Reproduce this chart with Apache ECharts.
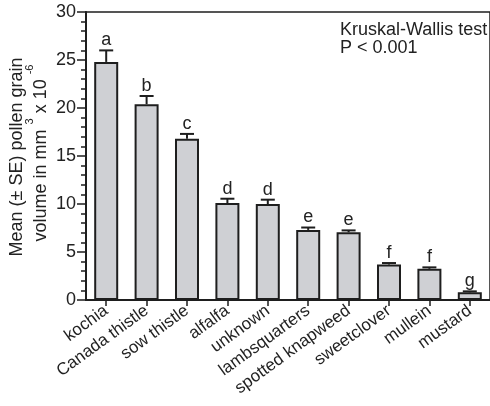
<!DOCTYPE html>
<html>
<head>
<meta charset="utf-8">
<script src="https://cdn.jsdelivr.net/npm/echarts@6/dist/echarts.min.js"></script>
<style>html,body{margin:0;padding:0;background:#fff}#c{width:490px;height:406px}</style>
</head>
<body>
<div id="c"></div>
<script>
var categories = ['kochia', 'Canada thistle', 'sow thistle', 'alfalfa', 'unknown', 'lambsquarters', 'spotted knapweed', 'sweetclover', 'mullein', 'mustard'];
var means = [24.8, 20.4, 16.8, 10.1, 10.0, 7.3, 7.05, 3.7, 3.25, 0.8];
var se = [1.2, 0.85, 0.5, 0.45, 0.45, 0.25, 0.2, 0.15, 0.15, 0.1];
var letters = ['a', 'b', 'c', 'd', 'd', 'e', 'e', 'f', 'f', 'g'];
var yTicks = [0, 5, 10, 15, 20, 25, 30];

var FONT = 'Liberation Sans, Arial, sans-serif';
var INK = '#1e1e1e';

var chart = echarts.init(document.getElementById('c'), null, {renderer: 'canvas'});

var errData = means.map(function (m, i) { return [i, m, m + se[i], letters[i]]; });

chart.setOption({
  animation: false,
  grid: {left: 86, top: 12, width: 405, height: 288, show: true, borderColor: INK, borderWidth: 1.5, backgroundColor: 'transparent'},
  xAxis: {
    type: 'category', data: categories, boundaryGap: true,
    axisLine: {lineStyle: {color: INK, width: 2}},
    axisTick: {show: true, alignWithLabel: true, length: 6, lineStyle: {color: INK, width: 1.5}},
    axisLabel: {rotate: 36, fontSize: 17, fontFamily: FONT, color: '#222', margin: 9, interval: 0}
  },
  yAxis: {
    type: 'value', min: yTicks[0], max: yTicks[yTicks.length - 1], interval: 5,
    axisLine: {show: true, lineStyle: {color: INK, width: 2}},
    axisTick: {show: true, length: 9, lineStyle: {color: INK, width: 1.5}},
    minorTick: {show: true, splitNumber: 5, length: 5, lineStyle: {color: INK, width: 1.5}},
    splitLine: {show: false},
    axisLabel: {fontSize: 18, fontFamily: FONT, color: '#222', margin: 10}
  },
  series: [
    {
      type: 'bar', data: means, barWidth: 24,
      itemStyle: {color: '#cfd0d4', borderColor: INK, borderWidth: 2}
    },
    {
      type: 'custom', data: errData,
      encode: {x: 0, y: [1, 2]},
      renderItem: function (params, api) {
        var i = api.value(0);
        var base = api.coord([i, api.value(1)]);
        var top = api.coord([i, api.value(2)]);
        var cap = 7;
        return {
          type: 'group',
          children: [
            {type: 'line', shape: {x1: base[0], y1: base[1], x2: top[0], y2: top[1]}, style: {stroke: INK, lineWidth: 2}},
            {type: 'line', shape: {x1: top[0] - cap, y1: top[1], x2: top[0] + cap, y2: top[1]}, style: {stroke: INK, lineWidth: 2}},
            {type: 'text', x: top[0], y: top[1] - 1, style: {text: letters[params.dataIndex], fontSize: 18, fontFamily: FONT, fill: '#222', align: 'center', verticalAlign: 'bottom', textAlign: 'center', textVerticalAlign: 'bottom'}}
          ]
        };
      },
      z: 5
    }
  ],
  graphic: [
    {type: 'text', x: 26.5, y: 157, rotation: Math.PI / 2,
     style: {text: 'Mean (\u00b1 SE) pollen grain', fontSize: 18, fontFamily: FONT, fill: '#222', align: 'center', verticalAlign: 'bottom', textAlign: 'center', textVerticalAlign: 'bottom'}},
    {type: 'text', x: 50.5, y: 153, rotation: Math.PI / 2,
     style: {text: '{n|volume in mm }{s|3}{n| x 10 }{s|-6}', fontSize: 18, fontFamily: FONT, fill: '#222', align: 'center', verticalAlign: 'bottom', textAlign: 'center', textVerticalAlign: 'bottom',
       rich: {n: {fontSize: 18, fontFamily: FONT, fill: '#222', lineHeight: 18, verticalAlign: 'bottom'}, s: {fontSize: 11, fontFamily: FONT, fill: '#222', lineHeight: 11, padding: [0, 0, 15, 0], verticalAlign: 'bottom'}}}},
    {type: 'text', x: 340, y: 21, style: {text: 'Kruskal-Wallis test', fontSize: 18, fontFamily: FONT, fill: '#222', align: 'left', verticalAlign: 'top'}},
    {type: 'text', x: 340, y: 39, style: {text: 'P < 0.001', fontSize: 18, fontFamily: FONT, fill: '#222', align: 'left', verticalAlign: 'top'}}
  ]
});
</script>
</body>
</html>
